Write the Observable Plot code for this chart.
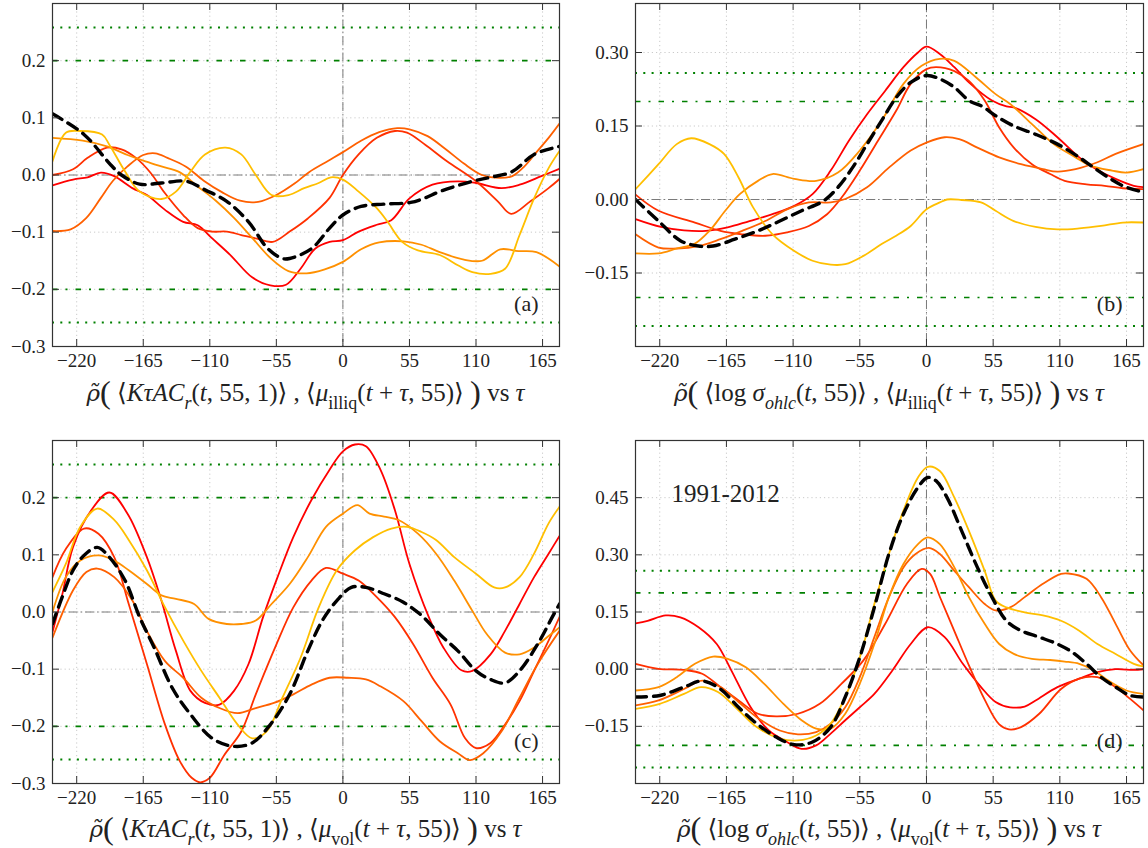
<!DOCTYPE html>
<html>
<head>
<meta charset="utf-8">
<script src="https://cdn.jsdelivr.net/npm/d3@7"></script>
<script src="https://cdn.jsdelivr.net/npm/@observablehq/plot@0.6"></script>
<style>
  html, body { margin: 0; padding: 0; background: #fff; }
  body { position: relative; width: 1148px; height: 848px; overflow: hidden; font-family: "Liberation Serif", "DejaVu Serif", serif; color: #222; }
  .panel { position: absolute; }
  .panel svg { overflow: visible; }
  .panel svg text { font-family: "Liberation Serif", "DejaVu Serif", serif !important; }
  .xlabel { position: absolute; text-align: center; font-family: "Liberation Serif", "DejaVu Serif", serif; font-size: 25px; line-height: 30px; white-space: nowrap; }
  .xlabel sub { font-size: 0.72em; vertical-align: -0.45em; }
  .big { font-size: 1.3em; vertical-align: -0.07em; }
  .rho { font-family: "DejaVu Serif", serif; font-style: italic; font-size: 0.92em; }
</style>
</head>
<body>
<div id="pa" class="panel" style="left:0;top:0"></div>
<div id="pb" class="panel" style="left:574px;top:0"></div>
<div id="pc" class="panel" style="left:0;top:437px"></div>
<div id="pd" class="panel" style="left:574px;top:437px"></div>

<div class="xlabel" style="left:52px;width:507px;top:377px"><span class="rho">ρ̃</span><span class="big">(</span> ⟨<i>KτAC</i><sub><i>r</i></sub>(<i>t</i>, 55, 1)⟩ , ⟨<i>μ</i><sub>illiq</sub>(<i>t</i> + <i>τ</i>, 55)⟩ <span class="big">)</span> vs <i>τ</i></div>
<div class="xlabel" style="left:635px;width:508px;top:377px"><span class="rho">ρ̃</span><span class="big">(</span> ⟨log <i>σ</i><sub><i>ohlc</i></sub>(<i>t</i>, 55)⟩ , ⟨<i>μ</i><sub>illiq</sub>(<i>t</i> + <i>τ</i>, 55)⟩ <span class="big">)</span> vs <i>τ</i></div>
<div class="xlabel" style="left:52px;width:507px;top:813px"><span class="rho">ρ̃</span><span class="big">(</span> ⟨<i>KτAC</i><sub><i>r</i></sub>(<i>t</i>, 55, 1)⟩ , ⟨<i>μ</i><sub>vol</sub>(<i>t</i> + <i>τ</i>, 55)⟩ <span class="big">)</span> vs <i>τ</i></div>
<div class="xlabel" style="left:635px;width:508px;top:813px"><span class="rho">ρ̃</span><span class="big">(</span> ⟨log <i>σ</i><sub><i>ohlc</i></sub>(<i>t</i>, 55)⟩ , ⟨<i>μ</i><sub>vol</sub>(<i>t</i> + <i>τ</i>, 55)⟩ <span class="big">)</span> vs <i>τ</i></div>

<script>
// Lag axis (τ, days) shared by all four panels
const tauDomain = [-240, 179];
const tauTicks = [-220, -165, -110, -55, 0, 55, 110, 165];

// Significance bands drawn in every panel
const bandInner = 0.2;
const bandOuter = 0.258;

// Sub-period colours (autumn ramp) and the all-period mean (black dashed)
const lineColors = ["#ff0000", "#ff3000", "#ff6000", "#ff9000", "#ffbf00"];

// ---------- panel (a): KτAC vs illiquidity ----------
const aRed = [[-240,-0.018],[-223,-0.008],[-211,-0.004],[-200,0.004],[-189,-0.002],[-174,-0.023],[-162,-0.035],[-147,-0.061],[-132,-0.082],[-120,-0.088],[-108,-0.111],[-93,-0.14],[-75,-0.179],[-60,-0.193],[-47,-0.192],[-35,-0.164],[-23,-0.129],[-11,-0.117],[0,-0.114],[13,-0.099],[28,-0.087],[40,-0.079],[55,-0.041],[74,-0.017],[95,-0.011],[110,-0.014],[131,-0.023],[146,-0.017],[164,-0.002],[179,0.011]];
const aRedOrange = [[-240,0.0],[-223,0.01],[-211,0.03],[-195,0.048],[-183,0.045],[-171,0.03],[-159,0.004],[-147,-0.032],[-132,-0.07],[-120,-0.093],[-108,-0.099],[-96,-0.099],[-84,-0.105],[-72,-0.111],[-58,-0.117],[-44,-0.099],[-29,-0.076],[-11,-0.04],[0,0.0],[13,0.036],[28,0.065],[43,0.077],[53,0.074],[68,0.053],[86,0.024],[110,-0.011],[128,-0.046],[139,-0.068],[155,-0.046],[170,-0.023],[179,-0.007]];
const aOrange = [[-240,-0.098],[-225,-0.095],[-212,-0.075],[-200,-0.04],[-190,-0.01],[-178,0.015],[-165,0.035],[-155,0.038],[-145,0.03],[-130,0.015],[-115,-0.01],[-100,-0.03],[-85,-0.045],[-70,-0.047],[-55,-0.035],[-40,-0.015],[-28,0.005],[-12,0.025],[0,0.04],[15,0.06],[30,0.075],[45,0.082],[55,0.08],[70,0.068],[85,0.045],[100,0.02],[115,0.0],[130,-0.005],[140,-0.002],[150,0.015],[160,0.04],[170,0.065],[179,0.09]];
const aAmber = [[-240,0.065],[-215,0.06],[-195,0.05],[-178,0.035],[-165,0.025],[-150,0.015],[-135,0.005],[-120,-0.02],[-105,-0.045],[-90,-0.075],[-75,-0.11],[-60,-0.145],[-45,-0.168],[-30,-0.172],[-15,-0.165],[0,-0.152],[15,-0.13],[30,-0.118],[50,-0.116],[65,-0.122],[80,-0.135],[100,-0.148],[115,-0.15],[130,-0.13],[145,-0.133],[160,-0.135],[179,-0.16]];
const aGold = [[-240,0.024],[-229,0.074],[-217,0.077],[-199,0.071],[-193,0.053],[-180,0.006],[-168,-0.029],[-150,-0.042],[-138,-0.029],[-126,0.006],[-114,0.036],[-97,0.048],[-84,0.036],[-72,0.0],[-59,-0.035],[-45,-0.035],[-32,-0.023],[-20,-0.014],[-10,-0.004],[0,-0.008],[13,-0.029],[28,-0.058],[37,-0.082],[49,-0.117],[62,-0.132],[80,-0.14],[95,-0.158],[107,-0.17],[122,-0.173],[134,-0.164],[146,-0.105],[158,-0.041],[170,0.012],[179,0.042]];
const aMean = [[-240,0.107],[-214,0.071],[-192,0.018],[-183,0.0],[-168,-0.016],[-150,-0.014],[-129,-0.011],[-114,-0.026],[-96,-0.046],[-78,-0.082],[-62,-0.129],[-50,-0.146],[-44,-0.146],[-26,-0.129],[-11,-0.093],[0,-0.07],[15,-0.055],[34,-0.051],[56,-0.048],[68,-0.04],[80,-0.029],[107,-0.011],[122,-0.004],[140,0.006],[158,0.036],[179,0.05]];

// ---------- panel (b): log σ_ohlc vs illiquidity ----------
const bRed = [[-240,-0.04],[-219,-0.056],[-200,-0.063],[-182,-0.064],[-164,-0.057],[-146,-0.044],[-127,-0.03],[-109,-0.013],[-94,0.011],[-79,0.059],[-64,0.12],[-49,0.174],[-34,0.222],[-19,0.27],[-7,0.3],[0,0.312],[11,0.297],[23,0.27],[35,0.239],[54,0.202],[66,0.19],[72,0.188],[90,0.164],[108,0.127],[126,0.086],[138,0.065],[156,0.042],[171,0.028],[179,0.025]];
const bRedOrange = [[-240,0.01],[-221,-0.023],[-191,-0.047],[-170,-0.064],[-152,-0.071],[-133,-0.074],[-115,-0.067],[-97,-0.054],[-82,-0.03],[-70,0.004],[-55,0.059],[-40,0.12],[-25,0.181],[-13,0.236],[0,0.266],[8,0.27],[23,0.262],[35,0.242],[48,0.202],[60,0.147],[72,0.106],[87,0.072],[102,0.052],[114,0.038],[132,0.031],[147,0.028],[162,0.023],[179,0.021]];
const bOrange = [[-240,-0.071],[-221,-0.098],[-206,-0.1],[-188,-0.095],[-170,-0.081],[-152,-0.064],[-133,-0.044],[-115,-0.02],[-97,-0.006],[-79,-0.006],[-67,0.001],[-49,0.025],[-31,0.065],[-13,0.1],[0,0.116],[15,0.127],[27,0.123],[42,0.106],[60,0.086],[78,0.072],[96,0.062],[108,0.057],[123,0.062],[141,0.076],[156,0.093],[179,0.113]];
const bAmber = [[-240,-0.11],[-221,-0.11],[-206,-0.1],[-191,-0.09],[-179,-0.064],[-166,-0.023],[-154,0.011],[-139,0.038],[-127,0.052],[-109,0.042],[-91,0.038],[-73,0.055],[-55,0.1],[-37,0.161],[-19,0.236],[-4,0.273],[11,0.287],[23,0.283],[41,0.249],[57,0.215],[69,0.195],[87,0.154],[105,0.113],[123,0.086],[135,0.069],[153,0.059],[165,0.055],[179,0.062]];
const bGold = [[-240,0.021],[-221,0.072],[-206,0.113],[-194,0.125],[-179,0.113],[-167,0.093],[-155,0.045],[-143,-0.016],[-127,-0.071],[-109,-0.105],[-94,-0.125],[-79,-0.133],[-67,-0.132],[-52,-0.115],[-37,-0.091],[-25,-0.074],[-13,-0.054],[0,-0.02],[11,-0.006],[17,0.0],[29,-0.001],[45,-0.006],[57,-0.023],[72,-0.044],[90,-0.056],[108,-0.061],[126,-0.059],[144,-0.054],[162,-0.047],[179,-0.047]];
const bMean = [[-240,0.0],[-221,-0.044],[-203,-0.084],[-188,-0.095],[-176,-0.095],[-158,-0.081],[-139,-0.064],[-121,-0.044],[-103,-0.023],[-85,-0.003],[-73,0.025],[-61,0.065],[-49,0.113],[-37,0.161],[-25,0.208],[-13,0.239],[0,0.253],[11,0.246],[23,0.229],[35,0.202],[46,0.19],[57,0.171],[72,0.15],[90,0.133],[108,0.113],[126,0.086],[138,0.065],[150,0.045],[162,0.028],[174,0.018],[179,0.016]];

// ---------- panel (c): KτAC vs volume ----------
const cRed = [[-240,-0.035],[-232,0.03],[-223,0.114],[-208,0.178],[-193,0.209],[-178,0.172],[-162,0.096],[-150,0.02],[-138,-0.068],[-126,-0.138],[-114,-0.159],[-102,-0.162],[-90,-0.138],[-78,-0.091],[-66,-0.009],[-54,0.061],[-41,0.131],[-26,0.196],[-11,0.249],[0,0.281],[10,0.293],[19,0.29],[31,0.249],[43,0.178],[55,0.084],[71,-0.009],[83,-0.062],[98,-0.102],[107,-0.103],[122,-0.074],[134,-0.033],[146,0.014],[158,0.061],[170,0.102],[179,0.133]];
const cRedOrange = [[-240,0.061],[-229,0.11],[-214,0.146],[-202,0.137],[-189,0.096],[-177,0.014],[-162,-0.091],[-147,-0.197],[-135,-0.26],[-125,-0.29],[-118,-0.298],[-110,-0.29],[-98,-0.25],[-84,-0.209],[-72,-0.144],[-56,-0.062],[-41,0.008],[-26,0.055],[-14,0.077],[0,0.067],[13,0.055],[28,0.026],[43,-0.009],[58,-0.056],[74,-0.115],[89,-0.162],[101,-0.221],[110,-0.238],[122,-0.229],[134,-0.197],[146,-0.156],[158,-0.103],[170,-0.05],[179,-0.009]];
const cOrange = [[-240,-0.045],[-223,0.038],[-212,0.07],[-203,0.076],[-189,0.061],[-174,0.02],[-162,-0.033],[-147,-0.086],[-132,-0.115],[-117,-0.15],[-102,-0.168],[-87,-0.177],[-72,-0.168],[-57,-0.159],[-41,-0.144],[-26,-0.127],[-11,-0.115],[4,-0.115],[19,-0.118],[31,-0.13],[50,-0.156],[65,-0.191],[80,-0.226],[95,-0.247],[105,-0.259],[116,-0.247],[131,-0.209],[146,-0.15],[161,-0.091],[179,-0.033]];
const cAmber = [[-240,0.0],[-229,0.061],[-217,0.09],[-202,0.099],[-189,0.09],[-177,0.073],[-162,0.049],[-150,0.029],[-138,0.023],[-123,0.014],[-111,-0.012],[-96,-0.021],[-84,-0.021],[-72,-0.015],[-59,0.014],[-44,0.049],[-29,0.096],[-14,0.149],[0,0.172],[12,0.187],[22,0.172],[34,0.167],[46,0.161],[62,0.137],[77,0.102],[92,0.055],[107,0.002],[119,-0.039],[134,-0.071],[146,-0.074],[158,-0.062],[170,-0.042],[179,-0.027]];
const cGold = [[-240,0.035],[-229,0.084],[-217,0.149],[-203,0.181],[-189,0.161],[-177,0.126],[-162,0.073],[-147,0.008],[-132,-0.05],[-117,-0.103],[-102,-0.15],[-87,-0.197],[-75,-0.221],[-63,-0.209],[-50,-0.15],[-35,-0.08],[-20,0.008],[-5,0.073],[10,0.108],[25,0.131],[40,0.146],[53,0.149],[65,0.14],[77,0.126],[92,0.096],[110,0.067],[125,0.043],[134,0.043],[146,0.061],[158,0.102],[170,0.155],[179,0.184]];
const cMean = [[-240,-0.021],[-232,0.026],[-223,0.073],[-214,0.099],[-203,0.113],[-193,0.096],[-180,0.055],[-168,-0.009],[-156,-0.062],[-141,-0.133],[-126,-0.179],[-108,-0.221],[-90,-0.235],[-75,-0.229],[-60,-0.197],[-44,-0.144],[-29,-0.068],[-17,-0.015],[-5,0.02],[7,0.043],[19,0.043],[34,0.032],[50,0.017],[65,-0.006],[80,-0.039],[95,-0.068],[110,-0.103],[122,-0.118],[134,-0.124],[146,-0.103],[161,-0.056],[173,-0.009],[179,0.014]];

// ---------- panel (d): log σ_ohlc vs volume, 1991-2012 ----------
const dRed = [[-240,0.12],[-230,0.127],[-215,0.141],[-203,0.136],[-188,0.11],[-173,0.066],[-161,-0.003],[-145,-0.1],[-130,-0.161],[-115,-0.191],[-103,-0.209],[-91,-0.2],[-79,-0.169],[-67,-0.134],[-55,-0.1],[-43,-0.065],[-28,-0.003],[-13,0.066],[1,0.11],[15,0.084],[30,0.014],[45,-0.047],[57,-0.086],[69,-0.1],[81,-0.098],[90,-0.082],[108,-0.047],[126,-0.025],[141,-0.008],[156,0.0],[171,-0.002],[179,0.0]];
const dRedOrange = [[-240,0.014],[-221,0.001],[-200,-0.002],[-185,-0.012],[-170,-0.047],[-155,-0.082],[-139,-0.117],[-124,-0.124],[-106,-0.117],[-88,-0.091],[-70,-0.038],[-52,0.023],[-34,0.119],[-16,0.224],[-4,0.263],[3,0.25],[11,0.19],[23,0.1],[35,0.01],[48,-0.08],[60,-0.145],[68,-0.158],[78,-0.152],[93,-0.117],[111,-0.052],[126,-0.025],[141,-0.021],[156,-0.047],[168,-0.078],[179,-0.108]];
const dOrange = [[-240,-0.095],[-221,-0.082],[-200,-0.052],[-185,-0.03],[-170,-0.047],[-155,-0.086],[-140,-0.126],[-121,-0.161],[-106,-0.171],[-91,-0.165],[-79,-0.143],[-67,-0.1],[-55,-0.021],[-43,0.084],[-31,0.189],[-19,0.267],[-9,0.302],[2,0.318],[11,0.302],[23,0.258],[35,0.215],[48,0.171],[57,0.154],[69,0.162],[81,0.189],[96,0.224],[111,0.25],[117,0.251],[132,0.237],[144,0.189],[156,0.119],[168,0.049],[179,0.01]];
const dAmber = [[-240,-0.056],[-221,-0.047],[-206,-0.021],[-191,0.014],[-176,0.033],[-164,0.027],[-149,0.005],[-134,-0.038],[-118,-0.091],[-103,-0.134],[-91,-0.156],[-79,-0.156],[-67,-0.117],[-55,-0.038],[-43,0.066],[-31,0.189],[-19,0.276],[-7,0.328],[1,0.346],[11,0.328],[23,0.267],[35,0.189],[48,0.119],[60,0.066],[72,0.04],[87,0.027],[102,0.024],[114,0.02],[126,0.014],[138,-0.003],[150,-0.03],[165,-0.056],[179,-0.065]];
const dGold = [[-240,-0.104],[-220,-0.091],[-200,-0.065],[-186,-0.047],[-172,-0.06],[-155,-0.108],[-140,-0.152],[-121,-0.182],[-106,-0.187],[-91,-0.174],[-79,-0.143],[-67,-0.073],[-55,0.031],[-43,0.171],[-31,0.302],[-19,0.416],[-7,0.503],[1,0.531],[11,0.52],[23,0.45],[35,0.363],[48,0.258],[57,0.18],[66,0.162],[81,0.149],[96,0.141],[111,0.127],[126,0.101],[141,0.066],[156,0.04],[171,0.014],[179,0.007]];
const dMean = [[-240,-0.073],[-220,-0.069],[-200,-0.047],[-185,-0.031],[-170,-0.052],[-155,-0.1],[-140,-0.143],[-124,-0.178],[-109,-0.198],[-94,-0.191],[-79,-0.152],[-67,-0.073],[-55,0.031],[-43,0.162],[-31,0.302],[-19,0.407],[-7,0.477],[1,0.503],[8,0.494],[17,0.45],[29,0.363],[42,0.267],[54,0.189],[66,0.127],[78,0.101],[93,0.084],[108,0.066],[120,0.045],[132,0.014],[144,-0.021],[156,-0.047],[168,-0.069],[179,-0.073]];

// Axis settings per panel
const yTicksAC = [-0.3, -0.2, -0.1, 0, 0.1, 0.2];
const yTicksB = [-0.15, 0, 0.15, 0.30];
const yTicksD = [-0.15, 0, 0.15, 0.30, 0.45];
const panelTags = ["(a)", "(b)", "(c)", "(d)"];
const periodNote = "1991-2012";

const W = 574, H = 376, MT = 3, MB = 30;
const innerH = H - MT - MB;
const tick = 7;
const serif = "'Liberation Serif', 'DejaVu Serif', serif";

function drawPanel(el, { lines, mean, yDomain, yTicks, fmt, tag, ml, mr, note }) {
  const innerW = W - ml - mr;
  const rows = lines.flatMap((pts, i) => pts.map(([tau, rho]) => ({ tau, rho, k: i })));
  const fmtY = d3.format(fmt);
  const marks = [
    Plot.gridX(tauTicks, { stroke: "#c4c4c4", strokeOpacity: 1, strokeWidth: 0.9, strokeDasharray: "1.2,3" }),
    Plot.gridY(yTicks, { stroke: "#c4c4c4", strokeOpacity: 1, strokeWidth: 0.9, strokeDasharray: "1.2,3" }),
    Plot.ruleY([0], { stroke: "#7a7a7a", strokeWidth: 1, strokeDasharray: "9,3,1.5,3" }),
    Plot.ruleX([0], { stroke: "#7a7a7a", strokeWidth: 1, strokeDasharray: "9,3,1.5,3" }),
    Plot.ruleY([-bandOuter, bandOuter], { stroke: "#008000", strokeWidth: 2, strokeDasharray: "2,6.3" }),
    Plot.ruleY([-bandInner, bandInner], { stroke: "#008000", strokeWidth: 1.7, strokeDasharray: "5.5,8,2,8" }),
    Plot.line(rows, { x: "tau", y: "rho", z: "k", stroke: d => lineColors[d.k], strokeWidth: 1.8, curve: "catmull-rom", clip: true }),
    Plot.line(mean, { x: d => d[0], y: d => d[1], stroke: "#000", strokeWidth: 3.4, strokeDasharray: "11,7", curve: "catmull-rom", clip: true }),
    // inward ticks on all four sides
    Plot.ruleX(tauTicks, { stroke: "#333", insetTop: innerH - tick }),
    Plot.ruleX(tauTicks, { stroke: "#333", insetBottom: innerH - tick }),
    Plot.ruleY(yTicks, { stroke: "#333", insetRight: innerW - tick }),
    Plot.ruleY(yTicks, { stroke: "#333", insetLeft: innerW - tick }),
    Plot.axisX(tauTicks, { tickSize: 0, tickPadding: 7, tickFormat: d3.format("d"), fontFamily: serif, fontSize: 19 }),
    Plot.axisY(yTicks, { tickSize: 0, tickPadding: 7, tickFormat: fmtY, fontFamily: serif, fontSize: 19 }),
    Plot.frame({ stroke: "#333", strokeWidth: 1.2 }),
    Plot.text([tag], { text: d => d, frameAnchor: "bottom-right", dx: -21, dy: -36, textAnchor: "end", fontSize: 22, fontFamily: serif, fill: "#222" })
  ];
  if (note) marks.push(Plot.text([note], { text: d => d, frameAnchor: "top-left", dx: 36, dy: 44, textAnchor: "start", fontSize: 25, fontFamily: serif, fill: "#222" }));
  const chart = Plot.plot({
    width: W, height: H,
    marginLeft: ml, marginRight: mr, marginTop: MT, marginBottom: MB,
    style: { fontFamily: serif, fontSize: "19px", color: "#222", background: "transparent" },
    x: { domain: tauDomain, label: null },
    y: { domain: yDomain, label: null },
    marks
  });
  document.getElementById(el).append(chart);
}

drawPanel("pa", { lines: [aRed, aRedOrange, aOrange, aAmber, aGold], mean: aMean, yDomain: [-0.3, 0.3], yTicks: yTicksAC, fmt: ".1f", tag: panelTags[0], ml: 52, mr: 15 });
drawPanel("pb", { lines: [bRed, bRedOrange, bOrange, bAmber, bGold], mean: bMean, yDomain: [-0.3, 0.4], yTicks: yTicksB, fmt: ".2f", tag: panelTags[1], ml: 61, mr: 5 });
drawPanel("pc", { lines: [cRed, cRedOrange, cOrange, cAmber, cGold], mean: cMean, yDomain: [-0.3, 0.3], yTicks: yTicksAC, fmt: ".1f", tag: panelTags[2], ml: 52, mr: 15 });
drawPanel("pd", { lines: [dRed, dRedOrange, dOrange, dAmber, dGold], mean: dMean, yDomain: [-0.3, 0.6], yTicks: yTicksD, fmt: ".2f", tag: panelTags[3], ml: 61, mr: 5, note: periodNote });
</script>
</body>
</html>
